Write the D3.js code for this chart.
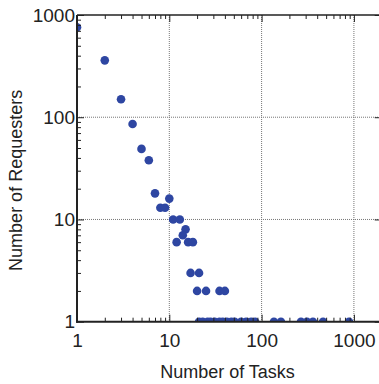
<!DOCTYPE html>
<html>
<head>
<meta charset="utf-8">
<script src="https://cdn.jsdelivr.net/npm/d3@7"></script>
<style>
  body { margin: 0; background: #fff; }
  text { font-family: "Liberation Sans", Arial, sans-serif; fill: #222; }
</style>
</head>
<body>
<div id="chart"></div>
<script>
// tasks per requester vs number of requesters
var tasks      = [1, 2, 3, 4, 5, 6, 7, 8, 9, 10, 11, 13, 15, 14, 12, 16, 18, 17, 21, 20, 25, 35, 40,
                  21, 23, 26, 28, 31, 35, 38, 42, 47, 51, 60, 68, 77, 85,
                  136, 162, 267, 310, 360, 463, 885];
var requesters = [760, 360, 150, 86, 49, 38, 18, 13, 13, 16, 10, 10, 8, 7, 6, 6, 6, 3, 3, 2, 2, 2, 2,
                  1, 1, 1, 1, 1, 1, 1, 1, 1, 1, 1, 1, 1, 1,
                  1, 1, 1, 1, 1, 1, 1];
var majorTicks = [1, 10, 100, 1000];
var xLabel = "Number of Tasks",
    yLabel = "Number of Requesters";

var width = 379, height = 384;
var mLeft = 77, mTop = 15, mBottom = 321.7, mRight = 381.7;

var svg = d3.select("#chart").append("svg")
    .attr("width", width)
    .attr("height", height);

var x = d3.scaleLog().domain([1, 2000]).range([mLeft, mRight]);
var y = d3.scaleLog().domain([1, 1000]).range([mBottom, mTop]);

var minorX = x.ticks().filter(function(d) { return majorTicks.indexOf(d) < 0; });
var minorY = y.ticks().filter(function(d) { return majorTicks.indexOf(d) < 0; });

svg.append("clipPath").attr("id", "plot")
  .append("rect")
    .attr("x", mLeft).attr("y", mTop)
    .attr("width", mRight - mLeft).attr("height", mBottom - mTop);

// grid
svg.append("g").selectAll("line").data([10, 100, 1000])
  .enter().append("line")
    .attr("x1", function(d) { return x(d); })
    .attr("x2", function(d) { return x(d); })
    .attr("y1", mTop).attr("y2", mBottom)
    .attr("stroke", "#777").attr("stroke-width", 1)
    .attr("stroke-dasharray", "1,1");
svg.append("g").selectAll("line").data([10, 100])
  .enter().append("line")
    .attr("y1", function(d) { return y(d); })
    .attr("y2", function(d) { return y(d); })
    .attr("x1", mLeft).attr("x2", mRight)
    .attr("stroke", "#777").attr("stroke-width", 1)
    .attr("stroke-dasharray", "1,1");

// points
svg.append("g").attr("clip-path", "url(#plot)")
  .selectAll("circle").data(tasks)
  .enter().append("circle")
    .attr("cx", function(d) { return x(d); })
    .attr("cy", function(d, i) { return y(requesters[i]); })
    .attr("r", 4.3)
    .attr("fill", "#2e46a2");

// axes with inward ticks
function styleAxis(g) {
  g.select(".domain").remove();
  g.selectAll("line").attr("stroke", "#222").attr("stroke-width", 1);
}

svg.append("g").attr("transform", "translate(0," + mBottom + ")")
  .call(d3.axisBottom(x).tickValues(minorX).tickSize(-4).tickFormat(""))
  .call(styleAxis);
svg.append("g").attr("transform", "translate(0," + mBottom + ")")
  .call(d3.axisBottom(x).tickValues(majorTicks).tickSize(-7).tickPadding(12).tickFormat(d3.format("d")))
  .call(styleAxis)
  .selectAll("text").attr("font-size", 19).attr("dy", "0.71em");

svg.append("g").attr("transform", "translate(0," + mTop + ")")
  .call(d3.axisTop(x).tickValues(minorX).tickSize(-4).tickFormat(""))
  .call(styleAxis);
svg.append("g").attr("transform", "translate(0," + mTop + ")")
  .call(d3.axisTop(x).tickValues(majorTicks).tickSize(-7).tickFormat(""))
  .call(styleAxis);

svg.append("g").attr("transform", "translate(" + mLeft + ",0)")
  .call(d3.axisLeft(y).tickValues(minorY).tickSize(-4).tickFormat(""))
  .call(styleAxis);
svg.append("g").attr("transform", "translate(" + mLeft + ",0)")
  .call(d3.axisLeft(y).tickValues(majorTicks).tickSize(-7).tickPadding(2).tickFormat(d3.format("d")))
  .call(styleAxis)
  .selectAll("text").attr("font-size", 19);

svg.append("g").attr("transform", "translate(" + mRight + ",0)")
  .call(d3.axisRight(y).tickValues(majorTicks).tickSize(-7).tickFormat(""))
  .call(styleAxis);

// frame
svg.append("line").attr("x1", mLeft).attr("x2", mLeft).attr("y1", mTop).attr("y2", mBottom + 1)
  .attr("stroke", "#222").attr("stroke-width", 2);
svg.append("line").attr("x1", mLeft - 1).attr("x2", mRight).attr("y1", mBottom).attr("y2", mBottom)
  .attr("stroke", "#222").attr("stroke-width", 2);
svg.append("line").attr("x1", mLeft).attr("x2", mRight).attr("y1", mTop).attr("y2", mTop)
  .attr("stroke", "#222").attr("stroke-width", 1.5);
svg.append("line").attr("x1", mRight).attr("x2", mRight).attr("y1", mTop).attr("y2", mBottom)
  .attr("stroke", "#222").attr("stroke-width", 1.5);

// titles
svg.append("text")
    .attr("x", (mLeft + 378) / 2).attr("y", 378)
    .attr("text-anchor", "middle").attr("font-size", 18)
    .text(xLabel);
svg.append("text")
    .attr("transform", "translate(22," + ((mTop + mBottom) / 2 + 12) + ") rotate(-90)")
    .attr("text-anchor", "middle").attr("font-size", 18)
    .text(yLabel);
</script>
</body>
</html>
